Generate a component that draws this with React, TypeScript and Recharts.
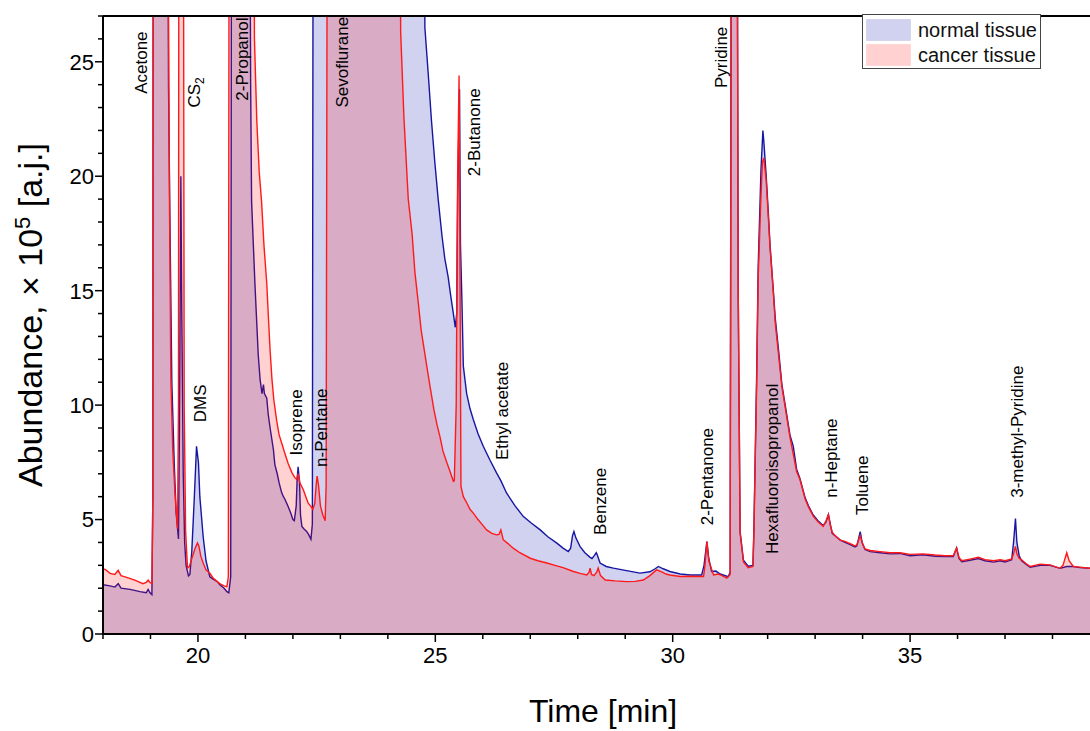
import React from 'react';
import { AreaChart, Area, XAxis, YAxis, ReferenceLine, ReferenceDot, Legend } from 'recharts';

const FONT = '"Liberation Sans", Arial, Helvetica, sans-serif';

// [time (min), abundance (x10^5)] ; values above 27 run off the top of the plot
const normalTissue: [number, number][] = [
  [18.00, 2.15], [18.15, 2.10], [18.25, 2.05], [18.32, 2.20], [18.38, 2.00], [18.57, 1.95], [18.78, 1.85],
  [18.91, 1.80], [18.95, 1.95], [18.99, 1.80], [19.03, 1.72], [19.05, 6.0], [19.06, 40], [19.36, 40],
  [19.38, 24], [19.41, 18], [19.45, 11], [19.50, 7.5], [19.54, 5.3], [19.59, 4.15], [19.61, 9], [19.64, 20.0],
  [19.66, 14], [19.69, 7], [19.72, 4.0], [19.75, 3.0], [19.80, 2.54], [19.83, 2.6], [19.87, 3.6], [19.92, 5.8],
  [19.97, 8.2], [20.01, 7.5], [20.04, 6.0], [20.11, 4.25], [20.17, 3.2], [20.25, 2.5], [20.32, 2.4], [20.40, 2.3],
  [20.46, 2.15], [20.55, 2.0], [20.61, 1.85], [20.65, 1.8], [20.69, 2.5], [20.71, 40], [21.08, 40], [21.11, 24],
  [21.13, 18.9], [21.20, 15.3], [21.27, 12.2], [21.31, 11.1], [21.35, 10.5], [21.38, 10.9], [21.40, 10.5],
  [21.45, 10.3], [21.48, 9.6], [21.52, 9.0], [21.59, 8.05], [21.62, 7.4], [21.67, 7.0], [21.71, 6.6], [21.76, 6.2],
  [21.80, 6.0], [21.83, 5.9], [21.90, 5.57], [21.96, 5.25], [22.00, 5.0], [22.03, 4.95], [22.07, 5.6], [22.09, 6.8],
  [22.11, 7.3], [22.14, 6.6], [22.16, 5.2], [22.19, 4.7], [22.23, 4.6], [22.29, 4.48], [22.33, 4.35], [22.38, 4.14],
  [22.41, 4.8], [22.43, 40], [24.76, 40], [24.78, 26.5], [24.85, 24.5], [24.92, 22.4], [24.99, 20.6], [25.06, 19.0],
  [25.14, 17.4], [25.20, 16.4], [25.27, 15.6], [25.33, 14.7], [25.38, 14.0], [25.42, 13.4], [25.45, 14.0],
  [25.47, 19], [25.51, 23.8], [25.53, 17], [25.56, 14.6], [25.59, 11.7], [25.66, 10.5], [25.73, 9.85], [25.80, 9.37],
  [25.90, 8.75], [26.01, 8.2], [26.15, 7.6], [26.29, 7.04], [26.38, 6.7], [26.50, 6.16], [26.68, 5.6], [26.85, 5.14],
  [27.02, 4.85], [27.21, 4.55], [27.37, 4.25], [27.56, 3.97], [27.69, 3.75], [27.80, 3.6], [27.85, 3.75],
  [27.89, 4.3], [27.92, 4.48], [27.96, 4.2], [28.05, 3.82], [28.15, 3.55], [28.26, 3.35], [28.30, 3.3], [28.34, 3.4],
  [28.39, 3.55], [28.41, 3.46], [28.47, 3.1], [28.60, 2.95], [28.75, 2.88], [29.00, 2.78], [29.31, 2.66],
  [29.52, 2.72], [29.63, 2.85], [29.70, 2.95], [29.80, 2.85], [29.94, 2.73], [30.16, 2.62], [30.37, 2.58],
  [30.61, 2.58], [30.66, 3.0], [30.72, 4.04], [30.76, 3.3], [30.82, 2.73], [30.91, 2.75], [31.00, 2.62],
  [31.17, 2.51], [31.21, 2.7], [31.24, 40], [31.35, 40], [31.38, 15], [31.42, 4.48], [31.49, 3.23], [31.59, 2.96],
  [31.69, 3.0], [31.71, 4.5], [31.74, 8.0], [31.77, 11.5], [31.80, 16.0], [31.86, 20.3], [31.90, 22.0],
  [31.92, 21.5], [31.97, 20.0], [32.02, 18.2], [32.05, 17.0], [32.12, 15.0], [32.16, 13.8], [32.23, 12.4],
  [32.30, 10.9], [32.37, 10.0], [32.47, 8.7], [32.54, 8.2], [32.61, 7.2], [32.68, 6.8], [32.79, 5.95], [32.86, 5.6],
  [32.96, 5.2], [33.06, 4.95], [33.17, 4.74], [33.23, 4.9], [33.28, 5.22], [33.32, 4.8], [33.36, 4.4], [33.42, 4.29],
  [33.53, 4.1], [33.63, 4.0], [33.74, 3.9], [33.84, 3.8], [33.88, 3.85], [33.95, 4.47], [33.99, 4.0], [34.05, 3.69],
  [34.16, 3.6], [34.37, 3.55], [34.58, 3.5], [34.79, 3.52], [35.00, 3.42], [35.27, 3.46], [35.53, 3.4],
  [35.74, 3.38], [35.91, 3.38], [35.98, 3.76], [36.03, 3.3], [36.09, 3.16], [36.26, 3.22], [36.44, 3.3],
  [36.58, 3.2], [36.76, 3.14], [36.90, 3.2], [37.00, 3.15], [37.14, 3.24], [37.18, 4.0], [37.22, 5.04],
  [37.25, 4.0], [37.30, 3.4], [37.35, 3.2], [37.44, 3.05], [37.53, 2.92], [37.74, 3.0], [37.95, 3.0],
  [38.16, 2.87], [38.30, 2.95], [38.44, 2.95], [38.58, 2.9], [38.79, 2.87],
];

const cancerTissue: [number, number][] = [
  [18.00, 2.85], [18.06, 2.8], [18.15, 2.65], [18.25, 2.6], [18.32, 2.78], [18.38, 2.55], [18.53, 2.45],
  [18.67, 2.35], [18.84, 2.2], [18.91, 2.25], [18.95, 2.35], [18.99, 2.25], [19.03, 2.2], [19.05, 6], [19.06, 40],
  [19.36, 40], [19.38, 27], [19.40, 19], [19.43, 11.1], [19.47, 8.0], [19.52, 6.0], [19.57, 4.6], [19.59, 10],
  [19.60, 40], [19.69, 40], [19.71, 10], [19.74, 4.5], [19.78, 2.89], [19.82, 2.95], [19.87, 3.3], [19.94, 3.75],
  [19.99, 3.98], [20.02, 3.85], [20.06, 3.4], [20.11, 3.1], [20.17, 2.8], [20.25, 2.65], [20.32, 2.45], [20.40, 2.3],
  [20.46, 2.2], [20.55, 2.1], [20.61, 2.07], [20.64, 2.5], [20.66, 40], [21.17, 40], [21.19, 26], [21.24, 22.4],
  [21.29, 20.2], [21.34, 18.9], [21.39, 17.0], [21.45, 15.3], [21.49, 13.6], [21.52, 12.4], [21.56, 11.1],
  [21.60, 10.2], [21.66, 9.3], [21.71, 8.7], [21.77, 8.3], [21.83, 7.9], [21.90, 7.45], [21.98, 7.05],
  [22.04, 6.83], [22.08, 6.75], [22.11, 7.0], [22.15, 6.6], [22.22, 6.3], [22.28, 5.95], [22.32, 5.73],
  [22.37, 5.6], [22.42, 5.45], [22.46, 5.7], [22.49, 6.5], [22.51, 6.9], [22.54, 6.5], [22.58, 5.6], [22.63, 5.2],
  [22.68, 4.95], [22.70, 6.5], [22.73, 40], [24.24, 40], [24.27, 26.3], [24.34, 22.5], [24.43, 19.0],
  [24.51, 17.5], [24.57, 15.8], [24.64, 14.5], [24.70, 13.3], [24.76, 12.5], [24.82, 11.7], [24.89, 10.8],
  [24.97, 9.8], [25.04, 9.1], [25.10, 8.6], [25.16, 8.0], [25.24, 7.5], [25.31, 7.1], [25.38, 6.67], [25.40, 6.7],
  [25.44, 10], [25.47, 20], [25.50, 24.4], [25.52, 16], [25.54, 6.45], [25.59, 6.0], [25.67, 5.7], [25.73, 5.45],
  [25.80, 5.28], [25.90, 5.0], [25.98, 4.8], [26.08, 4.55], [26.19, 4.4], [26.29, 4.33], [26.34, 4.35],
  [26.38, 4.55], [26.41, 4.3], [26.43, 4.12], [26.53, 3.95], [26.64, 3.75], [26.78, 3.55], [27.00, 3.31],
  [27.16, 3.2], [27.35, 3.1], [27.52, 3.0], [27.69, 2.9], [27.91, 2.73], [28.05, 2.65], [28.19, 2.58],
  [28.24, 2.7], [28.26, 2.88], [28.29, 2.6], [28.34, 2.55], [28.40, 2.7], [28.43, 2.88], [28.48, 2.55],
  [28.58, 2.36], [28.79, 2.32], [29.03, 2.29], [29.21, 2.3], [29.38, 2.36], [29.52, 2.55], [29.66, 2.8],
  [29.78, 2.7], [29.86, 2.62], [29.94, 2.58], [30.16, 2.51], [30.37, 2.52], [30.65, 2.51], [30.68, 3.0],
  [30.72, 4.04], [30.76, 3.2], [30.86, 2.58], [30.96, 2.62], [31.04, 2.55], [31.14, 2.44], [31.21, 2.6],
  [31.24, 40], [31.35, 40], [31.38, 15], [31.42, 4.4], [31.49, 3.15], [31.59, 2.9], [31.69, 2.95], [31.71, 4.4],
  [31.74, 7.8], [31.77, 11.0], [31.80, 15.5], [31.86, 19.2], [31.89, 20.6], [31.92, 20.8], [31.97, 19.8],
  [32.02, 18.0], [32.05, 16.9], [32.12, 14.9], [32.16, 13.6], [32.23, 12.2], [32.30, 10.8], [32.37, 9.9],
  [32.47, 8.6], [32.61, 7.1], [32.68, 6.75], [32.79, 5.9], [32.86, 5.55], [32.96, 5.15], [33.06, 4.9],
  [33.17, 4.7], [33.23, 4.95], [33.28, 5.22], [33.32, 4.75], [33.36, 4.45], [33.42, 4.3], [33.53, 4.1],
  [33.63, 4.05], [33.74, 3.95], [33.84, 3.85], [33.88, 3.9], [33.95, 4.3], [33.99, 4.0], [34.05, 3.72],
  [34.16, 3.65], [34.37, 3.6], [34.58, 3.55], [34.79, 3.55], [35.00, 3.48], [35.27, 3.5], [35.53, 3.45],
  [35.74, 3.42], [35.91, 3.42], [35.98, 3.76], [36.03, 3.35], [36.09, 3.2], [36.26, 3.27], [36.44, 3.35],
  [36.58, 3.25], [36.76, 3.2], [36.90, 3.25], [37.00, 3.2], [37.14, 3.28], [37.18, 3.5], [37.22, 3.83],
  [37.25, 3.5], [37.30, 3.3], [37.35, 3.24], [37.44, 3.08], [37.53, 2.95], [37.74, 3.05], [37.95, 3.02],
  [38.16, 2.87], [38.22, 3.0], [38.30, 3.55], [38.35, 3.2], [38.44, 2.95], [38.58, 2.92], [38.79, 2.87],
];

const seriesNames = ['normal tissue', 'cancer tissue'];

const peakNames = [
  'Acetone', 'CS2', 'DMS', '2-Propanol', 'Isoprene', 'n-Pentane', 'Sevoflurane', '2-Butanone',
  'Ethyl acetate', 'Benzene', '2-Pentanone', 'Pyridine', 'Hexafluoroisopropanol', 'n-Heptane', 'Toluene',
  '3-methyl-Pyridine',
];
const peakTimes = [18.80, 19.92, 20.04, 20.92, 22.07, 22.59, 23.03, 25.82, 26.40, 28.46, 30.72, 31.02, 32.09, 33.34, 33.98, 37.25];
const peakLabelLevels = [23.6, 23.0, 9.25, 23.3, 7.8, 7.3, 23.0, 20.0, 7.6, 4.33, 4.75, 23.85, 3.5, 5.95, 5.2, 5.95];

const xTicks = [18, 19, 20, 21, 22, 23, 24, 25, 26, 27, 28, 29, 30, 31, 32, 33, 34, 35, 36, 37, 38];
const yTicks = [0, 1, 2, 3, 4, 5, 6, 7, 8, 9, 10, 11, 12, 13, 14, 15, 16, 17, 18, 19, 20, 21, 22, 23, 24, 25, 26, 27];

const X_DOMAIN: [number, number] = [18, 38.79];
const Y_DOMAIN: [number, number] = [0, 27];

const NORMAL_LINE = '#1616a2';
const NORMAL_FILL = '#0000aa';
const CANCER_LINE = '#ff1a1a';
const CANCER_FILL = '#ff0000';
const FILL_OPACITY = 0.18;
const SERIES_FILLS = [NORMAL_FILL, CANCER_FILL];

const toRows = (arr: [number, number][]) => arr.map(([t, v]) => ({ t, v }));

function XTick(props: any) {
  const { x, y, payload } = props;
  const major = payload.value % 5 === 0;
  return (
    <g>
      <line x1={x} y1={y} x2={x} y2={y + (major ? 8 : 5)} stroke="#000" strokeWidth={1.5} />
      {major ? (
        <text x={x} y={y + 29} textAnchor="middle" fontSize={22} fontFamily={FONT} fill="#000">
          {payload.value}
        </text>
      ) : null}
    </g>
  );
}

function YTick(props: any) {
  const { x, y, payload } = props;
  const major = payload.value % 5 === 0;
  return (
    <g>
      <line x1={x - (major ? 8 : 5)} y1={y} x2={x} y2={y} stroke="#000" strokeWidth={1.5} />
      {major ? (
        <text x={x - 9} y={y} dy="0.36em" textAnchor="end" fontSize={22} fontFamily={FONT} fill="#000">
          {payload.value}
        </text>
      ) : null}
    </g>
  );
}

function YTitle(props: any) {
  const vb = props.viewBox || { x: 0, y: 16, width: 103, height: 618 };
  const cx = vb.x + 42;
  const cy = vb.y + vb.height / 2 - 10;
  return (
    <text transform={`rotate(-90 ${cx} ${cy})`} x={cx} y={cy} textAnchor="middle" fontSize={34} fontFamily={FONT} fill="#000">
      Abundance, × 10<tspan dy={-12} fontSize={22}>5</tspan><tspan dy={12}> [a.j.]</tspan>
    </text>
  );
}

function XTitle(props: any) {
  const vb = props.viewBox || { x: 103, y: 634, width: 987, height: 97 };
  return (
    <text x={vb.x + vb.width / 2 + 6.5} y={vb.y + 88} textAnchor="middle" fontSize={32} fontFamily={FONT} fill="#000">
      Time [min]
    </text>
  );
}

function PeakLabel({ cx, cy, name }: { cx: number; cy: number; name: string }) {
  const common = {
    transform: `rotate(-90 ${cx} ${cy})`,
    x: cx,
    y: cy,
    dy: '0.36em',
    fontSize: 17,
    fontFamily: FONT,
    fill: '#000',
  };
  if (name === 'CS2') {
    return (
      <text {...common}>
        CS<tspan dy="0.35em" fontSize={12}>2</tspan>
      </text>
    );
  }
  return <text {...common}>{name}</text>;
}

function LegendBox() {
  return (
    <div
      style={{
        position: 'relative',
        width: 177,
        height: 53,
        border: '1px solid #444',
        background: '#fff',
        fontFamily: FONT,
        fontSize: 20,
        color: '#111',
      }}
    >
      {seriesNames.map((name, i) => (
        <div key={name} style={{ position: 'absolute', left: 3, top: 4 + i * 25, height: 22, display: 'flex', alignItems: 'center' }}>
          <svg width={46} height={22} style={{ display: 'block' }}>
            <rect x={0.5} y={0.5} width={44} height={21} fill={SERIES_FILLS[i]} fillOpacity={FILL_OPACITY} stroke={SERIES_FILLS[i]} strokeOpacity={0.08} />
          </svg>
          <span style={{ marginLeft: 6, lineHeight: '22px', whiteSpace: 'nowrap' }}>{name}</span>
        </div>
      ))}
    </div>
  );
}

export default function App() {
  return (
    <div style={{ position: 'absolute', left: 0, top: 0, width: 1090, height: 731, background: '#fff' }}>
      <AreaChart width={1090} height={731} margin={{ top: 16, right: 0, bottom: 0, left: 0 }}>
        <XAxis
          type="number"
          dataKey="t"
          domain={X_DOMAIN}
          allowDataOverflow
          ticks={xTicks}
          interval={0}
          tickSize={0}
          tickMargin={0}
          tickLine={false}
          tick={(p: any) => <XTick {...p} />}
          axisLine={{ stroke: '#000', strokeWidth: 2 }}
          height={97}
          label={<XTitle />}
        />
        <YAxis
          type="number"
          domain={Y_DOMAIN}
          allowDataOverflow
          ticks={yTicks}
          interval={0}
          tickSize={0}
          tickMargin={0}
          tickLine={false}
          tick={(p: any) => <YTick {...p} />}
          axisLine={{ stroke: '#000', strokeWidth: 2 }}
          width={103}
          label={<YTitle />}
        />
        <Area
          type="linear"
          data={toRows(normalTissue)}
          dataKey="v"
          name={seriesNames[0]}
          stroke={NORMAL_LINE}
          strokeWidth={1.4}
          fill={NORMAL_FILL}
          fillOpacity={FILL_OPACITY}
          dot={false}
          activeDot={false}
          isAnimationActive={false}
        />
        <Area
          type="linear"
          data={toRows(cancerTissue)}
          dataKey="v"
          name={seriesNames[1]}
          stroke={CANCER_LINE}
          strokeWidth={1.4}
          fill={CANCER_FILL}
          fillOpacity={FILL_OPACITY}
          dot={false}
          activeDot={false}
          isAnimationActive={false}
        />
        <ReferenceLine y={Y_DOMAIN[1]} stroke="#000" strokeWidth={2} />
        {peakNames.map((name, i) => (
          <ReferenceDot
            key={name}
            x={peakTimes[i]}
            y={peakLabelLevels[i]}
            r={0}
            ifOverflow="visible"
            shape={(p: any) => <PeakLabel cx={p.cx} cy={p.cy} name={name} />}
          />
        ))}
        <Legend
          layout="vertical"
          align="center"
          verticalAlign="middle"
          wrapperStyle={{ left: 862, top: 14, width: 179, height: 55 }}
          content={() => <LegendBox />}
        />
      </AreaChart>
    </div>
  );
}
